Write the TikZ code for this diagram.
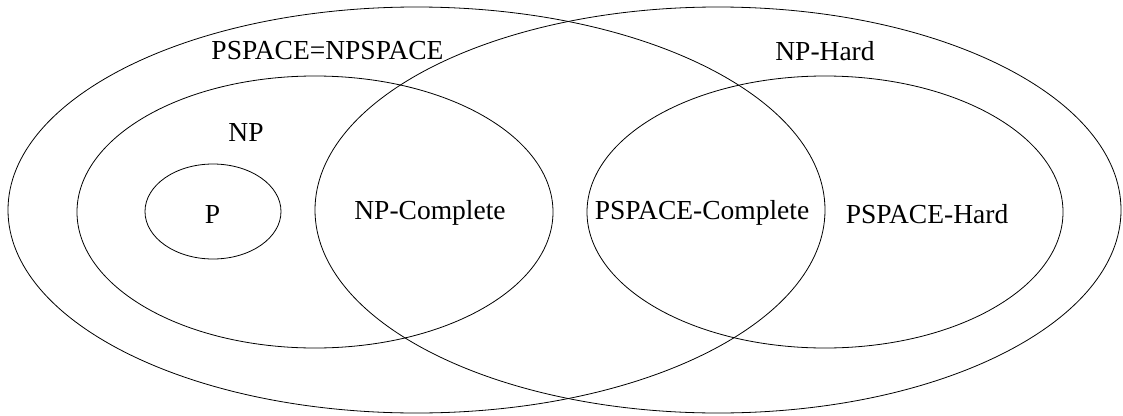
\documentclass[tikz,border=0pt]{standalone}
\usepackage{fontspec}
\setmainfont{Liberation Serif}
\begin{document}
\begin{tikzpicture}[x=1pt,y=-1pt,
  set/.style={draw=black,line width=0.8pt},
  lbl/.style={anchor=base,inner sep=0pt,font=\fontsize{27.5}{33}\selectfont}]
\useasboundingbox (0,0) rectangle (1123,415);

% complexity classes
\draw[set] (416.5,210) ellipse [x radius=408.5, y radius=203]; % PSPACE
\draw[set] (718,210)   ellipse [x radius=403,   y radius=203]; % NP-Hard
\draw[set] (315,212)   ellipse [x radius=238,   y radius=136]; % NP
\draw[set] (825,212)   ellipse [x radius=238,   y radius=136]; % PSPACE-Hard
\draw[set] (213,211.5) ellipse [x radius=68,    y radius=47.5]; % P

% labels
\node[lbl] (pspace)  at (327.5,59) {PSPACE=NPSPACE};
\node[lbl] (nphard)  at (825,60)   {NP-Hard};
\node[lbl] (np)      at (246,141)  {NP};
\node[lbl] (p)       at (212.5,223) {P};
\node[lbl] (npc)     at (430,219)  {NP-Complete};
\node[lbl] (pspacec) at (702,219)  {PSPACE-Complete};
\node[lbl] (pspaceh) at (927,223)  {PSPACE-Hard};
\end{tikzpicture}
\end{document}
